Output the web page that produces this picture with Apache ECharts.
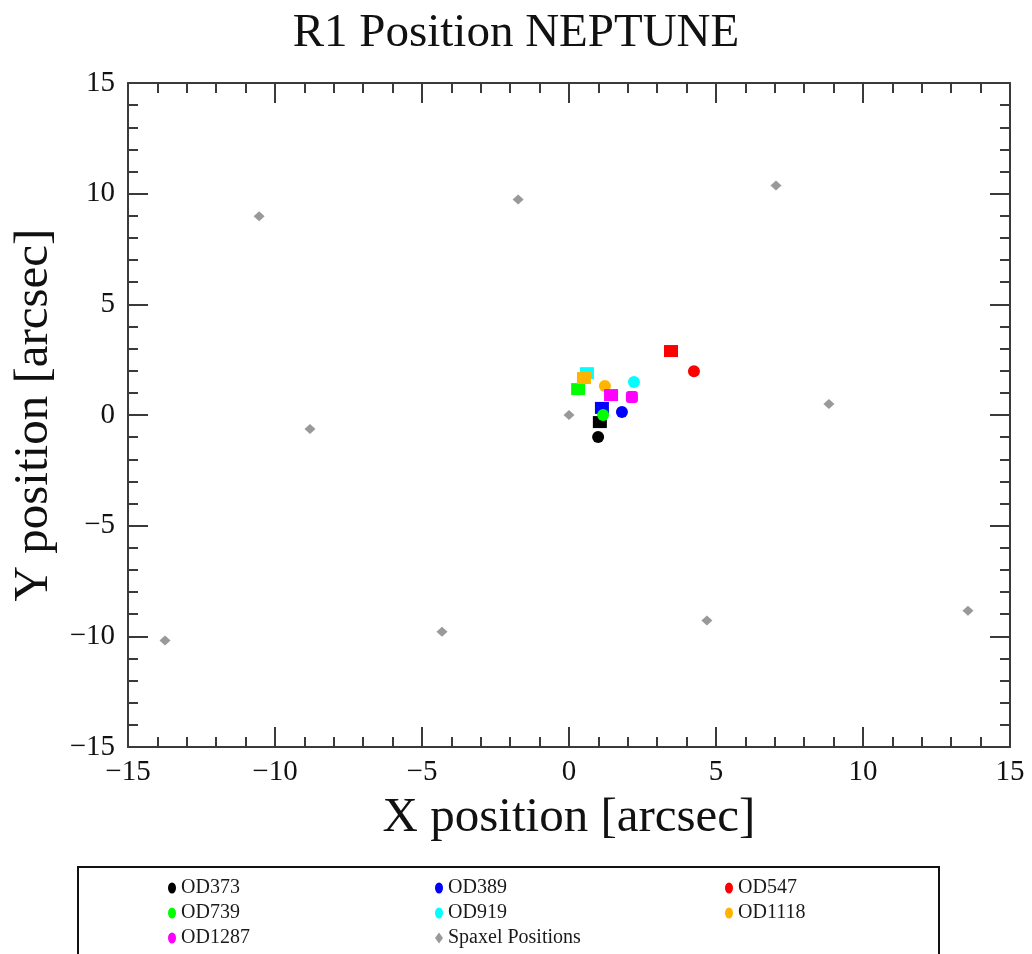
<!DOCTYPE html>
<html>
<head>
<meta charset="utf-8">
<title>R1 Position NEPTUNE</title>
<script src="https://cdn.jsdelivr.net/npm/echarts@6/dist/echarts.min.js"></script>
<style>
  html, body { margin: 0; padding: 0; background: #ffffff; }
  #chart { width: 1032px; height: 954px; }
</style>
</head>
<body>
<div id="chart"></div>
<script>
// Observation days and their measured positions [x, y] in arcsec.
// First entry: square marker, second entry: round marker.
const seriesNames = ['OD373', 'OD389', 'OD547', 'OD739', 'OD919', 'OD1118', 'OD1287'];
const od373  = [[1.05, -0.32], [0.99, -0.99]];
const od389  = [[1.12, 0.32], [1.80, 0.14]];
const od547  = [[3.47, 2.89], [4.25, 1.98]];
const od739  = [[0.31, 1.17], [1.16, 0.00]];
const od919  = [[0.61, 1.89], [2.21, 1.49]];
const od1118 = [[0.51, 1.67], [1.22, 1.31]];
const od1287 = [[1.43, 0.90], [2.14, 0.81]];
const seriesPoints = [od373, od389, od547, od739, od919, od1118, od1287];

// Spaxel centres [x, y] in arcsec.
const spaxelPositions = [
  [0.00, 0.00], [-10.54, 8.98], [-1.73, 9.74], [7.04, 10.37],
  [-8.81, -0.63], [8.84, 0.50], [-13.74, -10.19], [-4.32, -9.79],
  [4.69, -9.29], [13.57, -8.84]
];

// Axis range and tick step (arcsec).
const axisMin = -15;
const axisMax = 15;
const axisStep = 5;

const seriesColors = ['#000000', '#0000ff', '#ff0000', '#00ff00', '#00ffff', '#ffb400', '#ff00ff'];
const spaxelColor = '#808080';
const serif = '"Liberation Serif", "DejaVu Serif", serif';
const axisColor = '#3a3a3a';

const minus = v => String(v).replace('-', '\u2212');

function axisBase(extra) {
  return Object.assign({
    type: 'value',
    min: axisMin,
    max: axisMax,
    interval: axisStep,
    axisLine: { show: true, onZero: false, lineStyle: { color: axisColor, width: 2 } },
    axisTick: { show: true, inside: true, length: 20, lineStyle: { color: axisColor, width: 2 } },
    minorTick: { show: true, splitNumber: 5, length: 10, lineStyle: { color: axisColor, width: 2 } },
    splitLine: { show: false },
    minorSplitLine: { show: false }
  }, extra);
}

const labelStyle = { fontFamily: serif, fontSize: 29, color: '#111111', formatter: minus };
const nameStyle = { fontFamily: serif, fontSize: 49, color: '#111111' };

const series = seriesNames.map((name, i) => ({
  name: name,
  type: 'scatter',
  z: 2 + i,
  itemStyle: { color: seriesColors[i], opacity: 1 },
  data: seriesPoints[i].map((p, k) => ({
    value: p,
    symbol: k === 0 ? 'rect' : (name === 'OD1287' ? 'roundRect' : 'circle'),
    symbolSize: k === 0 ? [14, 12] : 12
  }))
}));

series.push({
  name: 'Spaxel Positions',
  type: 'scatter',
  z: 1,
  symbol: 'diamond',
  symbolSize: [11, 10],
  itemStyle: { color: spaxelColor },
  data: spaxelPositions
});

// Legend glyphs: upright ellipse for observations, diamond for spaxels.
const ellipseIcon = 'path://M4,0 A4,5.5 0 1,1 4,11 A4,5.5 0 1,1 4,0 Z';
const diamondIcon = 'path://M4,0 L8,5.5 L4,11 L0,5.5 Z';
const legendText = { fontFamily: serif, fontSize: 20, color: '#1a1a1a' };
function legendColumn(names, left) {
  return {
    orient: 'vertical',
    left: left,
    top: 873,
    itemGap: 5,
    itemWidth: 8,
    itemHeight: 20,
    selectedMode: false,
    textStyle: legendText,
    data: names.map(n => ({
      name: n,
      icon: n === 'Spaxel Positions' ? diamondIcon : ellipseIcon
    }))
  };
}

const chart = echarts.init(document.getElementById('chart'), null, { renderer: 'canvas' });
chart.setOption({
  backgroundColor: '#ffffff',
  animation: false,
  title: {
    text: 'R1 Position NEPTUNE',
    left: 'center',
    top: 5,
    textStyle: { fontFamily: serif, fontSize: 47, fontWeight: 'normal', color: '#111111' }
  },
  grid: { left: 128, right: 22, top: 83, bottom: 207, containLabel: false },
  xAxis: [
    axisBase({
      position: 'bottom',
      name: 'X position [arcsec]',
      nameLocation: 'middle',
      nameGap: 47,
      nameTextStyle: nameStyle,
      axisLabel: Object.assign({ margin: 11 }, labelStyle)
    }),
    axisBase({ position: 'top', axisLabel: { show: false } })
  ],
  yAxis: [
    axisBase({
      position: 'left',
      name: 'Y position [arcsec]',
      nameLocation: 'middle',
      nameGap: 66,
      nameTextStyle: nameStyle,
      axisLabel: Object.assign({ margin: 13 }, labelStyle)
    }),
    axisBase({ position: 'right', axisLabel: { show: false } })
  ],
  legend: [
    legendColumn(['OD373', 'OD739', 'OD1287'], 163),
    legendColumn(['OD389', 'OD919', 'Spaxel Positions'], 430),
    legendColumn(['OD547', 'OD1118'], 720)
  ],
  graphic: [{
    type: 'rect',
    shape: { x: 78, y: 867, width: 861, height: 100 },
    style: { fill: 'none', stroke: '#111111', lineWidth: 2 },
    silent: true
  }],
  series: series
});
</script>
</body>
</html>
